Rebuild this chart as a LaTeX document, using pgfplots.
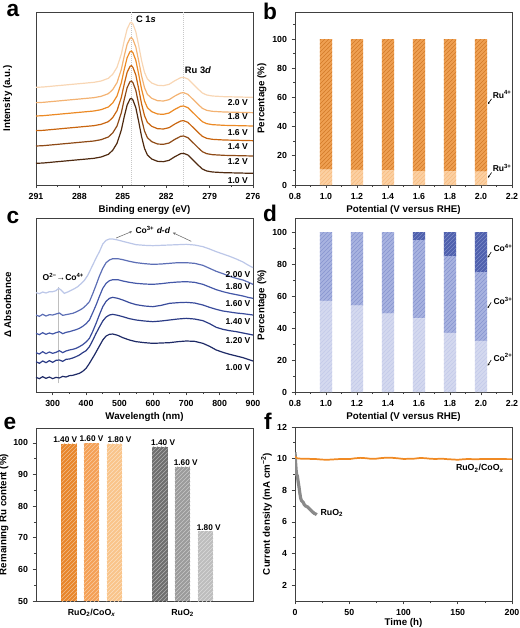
\documentclass[border=0pt]{standalone}
\usepackage{fontspec}
\setmainfont{Liberation Sans}
\usepackage{pgfplots}
\usepackage{pgfplotstable}
\pgfplotsset{compat=1.18}
\usetikzlibrary{patterns,arrows.meta}

\definecolor{aA}{HTML}{4F2A10}
\definecolor{aB}{HTML}{8E4A16}
\definecolor{aC}{HTML}{C9650F}
\definecolor{aD}{HTML}{EC8A25}
\definecolor{aE}{HTML}{F3B272}
\definecolor{aF}{HTML}{F8D6B4}
\definecolor{cA}{HTML}{1E2A66}
\definecolor{cB}{HTML}{2B3B85}
\definecolor{cC}{HTML}{3A4C9C}
\definecolor{cD}{HTML}{4458A8}
\definecolor{cE}{HTML}{5C6EB5}
\definecolor{cF}{HTML}{BCC7E8}
\definecolor{ruF}{HTML}{EFA052}
\definecolor{ruFp}{HTML}{D27A28}
\definecolor{ruT}{HTML}{FCD0A2}
\definecolor{ruTp}{HTML}{F7BC82}
\definecolor{coB}{HTML}{D4D9EF}
\definecolor{coBp}{HTML}{C3CAE9}
\definecolor{coC}{HTML}{A8B3E0}
\definecolor{coCp}{HTML}{8794CF}
\definecolor{coD}{HTML}{4F60AD}
\definecolor{coDp}{HTML}{7D8CC8}
\definecolor{eA}{HTML}{E8852A}
\definecolor{eB}{HTML}{F4A055}
\definecolor{eC}{HTML}{F9C48A}
\definecolor{eD}{HTML}{6E6E6E}
\definecolor{eE}{HTML}{9B9B9B}
\definecolor{eF}{HTML}{BDBDBD}
\definecolor{fO}{HTML}{F08A24}
\definecolor{fG}{HTML}{8A8A8A}

\pgfplotstableread{
E v10 v12 v14 v16 v18 v20
291.0 65 117 163 207 247 293
290.5 66 118 164 208 248 294
290.0 68 120 166 210 250 296
289.5 70 122 168 212 252 298
289.0 72 124 170 214 254 300
288.5 74 126 172 216 256 302
288.0 76 128 174 218 258 304
287.5 78 130 176 220 260 306
287.0 80 132 178 222 262 308
286.5 84 136 182 226 266 312
286.0 92 144 190 234 274 320
285.7 104 156 202 246 286 332
285.4 125 177 223 267 307 353
285.1 165 217 263 307 347 393
284.9 205 257 303 347 387 433
284.7 240 292 338 382 422 468
284.5 258 310 356 400 440 486
284.4 260 312 358 402 442 488
284.3 255 307 353 397 437 483
284.1 232 284 330 374 414 460
283.9 190 242 288 332 372 418
283.7 145 197 243 287 327 373
283.5 110 162 208 252 292 338
283.3 90 142 188 232 272 318
283.0 78 130 176 220 260 306
282.6 71 123 169 213 253 299
282.2 70 122 168 212 252 298
281.8 74 126 172 216 256 302
281.4 85 137 183 227 267 313
281.0 94 146 192 236 276 322
280.8 95 147 193 237 277 323
280.5 90 142 188 232 272 318
280.1 73 125 171 215 255 301
279.8 60 112 158 202 242 288
279.5 48 100 146 190 230 276
279.2 42 94 140 184 224 270
278.8 39 91 137 181 221 267
278.0 37 89 135 179 219 265
277.0 36 88 134 178 218 264
276.0 35 87 133 177 217 263
}\dataA

\tikzset{annot/.style={font=\fontsize{6.4}{7.5}\selectfont\bfseries, inner sep=0.5pt}}

\pgfplotsset{
  panel/.style={
    scale only axis,
    anchor=north west,
    clip mode=individual,
    /pgf/number format/assume math mode=true,
    tick label style={font=\fontsize{6.6}{7.5}\selectfont\bfseries},
    label style={font=\fontsize{7.3}{8.5}\selectfont\bfseries},
    axis line style={line width=0.6pt, black!75},
    tick style={line width=0.5pt, black!75},
    tick align=outside,
    xtick pos=left, ytick pos=left,
    major tick length=2.5pt, minor tick length=1.5pt,
    xlabel style={at={(axis description cs:0.5,-0.09)}, anchor=north},
  },
}

\begin{document}
\begin{tikzpicture}
\path[use as bounding box] (0,0) rectangle (390pt,-471pt);

% panel letters
\begin{scope}[every node/.style={font=\fontsize{17}{17}\selectfont\bfseries, inner sep=0pt}]
\node at (9.75pt,-7.6pt) {a};
\node at (202.5pt,-8.2pt) {b};
\node at (9.75pt,-163.5pt) {c};
\node at (202.5pt,-160pt) {d};
\node at (7.5pt,-318pt) {e};
\node at (201pt,-316pt) {f};
\end{scope}

% ---------------- a ----------------
\begin{axis}[panel, at={(27pt,-9pt)}, width=162.75pt, height=129.75pt,
  xmin=276, xmax=291, x dir=reverse, ymin=0, ymax=519,
  ytick=\empty, xtick={276,279,282,285,288,291}, minor x tick num=1,
  xlabel={Binding energy (eV)}, ylabel={Intensity (a.u.)},
  ylabel style={at={(axis description cs:-0.088,0.5)}, anchor=south}]
\draw[black!22, densely dotted, line width=0.5pt] (axis cs:284.4,0) -- (axis cs:284.4,519);
\draw[black!22, densely dotted, line width=0.5pt] (axis cs:280.8,0) -- (axis cs:280.8,519);
\addplot[aF, line width=0.9pt] table[x=E, y=v20] {\dataA};
\addplot[aE, line width=0.9pt] table[x=E, y=v18] {\dataA};
\addplot[aD, line width=0.9pt] table[x=E, y=v16] {\dataA};
\addplot[aC, line width=0.9pt] table[x=E, y=v14] {\dataA};
\addplot[aB, line width=0.9pt] table[x=E, y=v12] {\dataA};
\addplot[aA, line width=0.9pt] table[x=E, y=v10] {\dataA};
\node[annot, font=\fontsize{7}{8}\selectfont\bfseries] at (axis cs:283.4,498) {C 1\textit{s}};
\node[annot, font=\fontsize{7}{8}\selectfont\bfseries] at (axis cs:279.8,343) {Ru 3\textit{d}};
\node[annot, anchor=east] at (axis cs:276.3,246) {2.0 V};
\node[annot, anchor=east] at (axis cs:276.3,204) {1.8 V};
\node[annot, anchor=east] at (axis cs:276.3,156) {1.6 V};
\node[annot, anchor=east] at (axis cs:276.3,114) {1.4 V};
\node[annot, anchor=east] at (axis cs:276.3,69) {1.2 V};
\node[annot, anchor=east] at (axis cs:276.3,13) {1.0 V};
\end{axis}

% ---------------- b ----------------
\begin{axis}[panel, at={(221.25pt,-9pt)}, width=162.75pt, height=129.75pt,
  ybar stacked, bar width=0.08,
  xmin=0.8, xmax=2.2, ymin=0, ymax=118.5,
  xtick={0.8,1.0,1.2,1.4,1.6,1.8,2.0,2.2}, minor x tick num=1,
  xticklabel style={/pgf/number format/.cd, fixed, fixed zerofill, precision=1},
  ytick={0,20,40,60,80,100}, minor ytick={10,30,50,70,90,110},
  xlabel={Potential (V versus RHE)}, ylabel={Percentage (\%)},
  ylabel style={at={(axis description cs:-0.11,0.5)}, anchor=south}]
\addplot[fill=ruT, draw=none, postaction={pattern=north east lines, pattern color=ruTp}]
  coordinates {(1.0,10.5) (1.2,10.3) (1.4,10.0) (1.6,9.5) (1.8,9.3) (2.0,9.2)};
\addplot[fill=ruF, draw=none, postaction={pattern=north east lines, pattern color=ruFp}]
  coordinates {(1.0,89.5) (1.2,89.7) (1.4,90.0) (1.6,90.5) (1.8,90.7) (2.0,90.8)};
\draw[-{Stealth[length=1.6pt,width=1.6pt]}, line width=0.45pt] (axis cs:2.068,59) -- (axis cs:2.045,55.5);
\draw[-{Stealth[length=1.6pt,width=1.6pt]}, line width=0.45pt] (axis cs:2.068,8.5) -- (axis cs:2.045,5);
\node[annot, anchor=west] at (axis cs:2.07,62) {Ru\textsuperscript{4+}};
\node[annot, anchor=west] at (axis cs:2.07,11.5) {Ru\textsuperscript{3+}};
\end{axis}

% ---------------- c ----------------
\begin{axis}[panel, at={(27pt,-163.5pt)}, width=162.75pt, height=130.5pt,
  xmin=250, xmax=900, ymin=0, ymax=522,
  ytick=\empty, xtick={300,400,500,600,700,800,900}, minor x tick num=1,
  xlabel={Wavelength (nm)}, ylabel={Δ Absorbance},
  ylabel style={at={(axis description cs:-0.092,0.5)}, anchor=south}]
\draw[black!25, line width=0.5pt] (axis cs:318,26) -- (axis cs:318,316);
\addplot[cF, line width=0.9pt] coordinates {(250,298)(260,295)(270,300)(280,297)(290,301)(300,301)(310,304)(318,311)(325,306)(335,296)(345,300)(355,305)(365,310)(375,316)(385,325)(395,335)(405,350)(420,381)(430,402)(440,421)(450,444)(460,455)(470,459)(480,459)(495,456)(510,452)(530,447)(550,442)(575,440)(600,439)(625,440)(650,441)(675,442)(700,443)(725,441)(750,436)(770,429)(790,421)(810,414)(830,407)(850,399)(870,390)(885,381)(900,373)};
\addplot[cE, line width=0.9pt] coordinates {(250,231)(260,227)(270,233)(280,228)(290,232)(300,231)(310,234)(320,237)(330,230)(340,232)(350,234)(360,236)(370,240)(380,245)(390,251)(400,260)(410,271)(420,295)(430,321)(440,348)(450,371)(460,388)(470,396)(480,400)(495,400)(510,397)(530,392)(550,388)(575,385)(600,383)(625,384)(650,386)(675,388)(700,388)(725,386)(750,380)(770,371)(790,362)(810,355)(830,347)(850,341)(870,336)(885,330)(900,323)};
\addplot[cD, line width=0.9pt] coordinates {(250,176)(260,172)(270,178)(280,173)(290,177)(300,174)(310,178)(320,181)(330,175)(340,179)(350,181)(360,184)(370,187)(380,191)(390,197)(400,205)(410,216)(420,238)(430,261)(440,287)(450,311)(460,326)(470,334)(480,337)(495,337)(510,333)(530,329)(550,326)(575,324)(600,323)(625,325)(650,328)(675,330)(700,331)(725,329)(750,323)(770,315)(790,307)(810,301)(830,296)(850,292)(870,288)(885,284)(900,281)};
\addplot[cC, line width=0.9pt] coordinates {(250,118)(260,114)(270,121)(280,115)(290,120)(300,116)(310,119)(320,124)(330,118)(340,123)(350,126)(360,128)(370,131)(380,136)(390,142)(400,150)(410,161)(420,182)(430,206)(440,232)(450,256)(460,272)(470,281)(480,284)(495,281)(510,276)(530,268)(550,262)(575,258)(600,256)(625,260)(650,266)(675,268)(700,269)(725,267)(750,261)(770,254)(790,248)(810,243)(830,240)(850,237)(870,235)(885,233)(900,231)};
\addplot[cB, line width=0.9pt] coordinates {(250,91)(260,86)(270,93)(280,88)(290,94)(300,89)(310,95)(320,96)(330,92)(340,98)(350,99)(360,102)(370,106)(380,111)(390,118)(400,124)(410,136)(420,155)(430,176)(440,195)(450,213)(460,225)(470,231)(480,233)(495,230)(510,226)(530,220)(550,216)(575,213)(600,211)(625,213)(650,216)(675,219)(700,221)(725,219)(750,214)(770,205)(790,194)(810,188)(830,184)(850,181)(870,177)(885,174)(900,171)};
\addplot[cA, line width=0.9pt] coordinates {(250,44)(260,40)(270,46)(280,41)(290,45)(300,40)(310,44)(320,42)(330,47)(340,45)(350,49)(360,50)(370,53)(380,56)(390,62)(400,71)(410,86)(425,111)(440,138)(450,156)(460,168)(470,173)(480,174)(495,170)(510,163)(530,156)(550,151)(575,148)(600,146)(625,147)(650,148)(675,151)(700,153)(725,152)(750,146)(770,137)(790,126)(810,119)(830,113)(850,108)(870,103)(885,98)(900,93)};
\node[annot] at (axis cs:332,346) {O\textsuperscript{2−}→Co\textsuperscript{4+}};
\node[annot] at (axis cs:600,486) {Co\textsuperscript{3+} \textit{d-d}};
\draw[-{Stealth[length=2pt,width=1.8pt]}, black!60, line width=0.4pt] (axis cs:490,462) -- (axis cs:538,482);
\draw[-{Stealth[length=2pt,width=1.8pt]}, black!60, line width=0.4pt] (axis cs:715,452) -- (axis cs:660,478);
\node[annot, anchor=east] at (axis cs:895,351) {2.00 V};
\node[annot, anchor=east] at (axis cs:895,316) {1.80 V};
\node[annot, anchor=east] at (axis cs:895,266) {1.60 V};
\node[annot, anchor=east] at (axis cs:895,211) {1.40 V};
\node[annot, anchor=east] at (axis cs:895,153) {1.20 V};
\node[annot, anchor=east] at (axis cs:895,73) {1.00 V};
\end{axis}

% ---------------- d ----------------
\begin{axis}[panel, at={(221.25pt,-163.5pt)}, width=162.75pt, height=130.5pt,
  ybar stacked, bar width=0.08,
  xmin=0.8, xmax=2.2, ymin=0, ymax=108.75,
  xtick={0.8,1.0,1.2,1.4,1.6,1.8,2.0,2.2}, minor x tick num=1,
  xticklabel style={/pgf/number format/.cd, fixed, fixed zerofill, precision=1},
  ytick={0,20,40,60,80,100}, minor ytick={10,30,50,70,90},
  xlabel={Potential (V versus RHE)}, ylabel={Percentage (\%)},
  ylabel style={at={(axis description cs:-0.11,0.5)}, anchor=south}]
\addplot[fill=coB, draw=none, postaction={pattern=north east lines, pattern color=coBp}]
  coordinates {(1.0,57) (1.2,54) (1.4,49) (1.6,46) (1.8,37) (2.0,32)};
\addplot[fill=coC, draw=none, postaction={pattern=north east lines, pattern color=coCp}]
  coordinates {(1.0,43) (1.2,46) (1.4,51) (1.6,49) (1.8,48) (2.0,43)};
\addplot[fill=coD, draw=none, postaction={pattern=north east lines, pattern color=coDp}]
  coordinates {(1.0,0) (1.2,0) (1.4,0) (1.6,5) (1.8,15) (2.0,25)};
\draw[-{Stealth[length=1.6pt,width=1.6pt]}, line width=0.45pt] (axis cs:2.066,87.5) -- (axis cs:2.043,84);
\draw[-{Stealth[length=1.6pt,width=1.6pt]}, line width=0.45pt] (axis cs:2.066,56) -- (axis cs:2.043,52.5);
\draw[-{Stealth[length=1.6pt,width=1.6pt]}, line width=0.45pt] (axis cs:2.066,20) -- (axis cs:2.043,16.5);
\node[annot, anchor=west] at (axis cs:2.075,90) {Co\textsuperscript{4+}};
\node[annot, anchor=west] at (axis cs:2.075,57) {Co\textsuperscript{3+}};
\node[annot, anchor=west] at (axis cs:2.075,21.5) {Co\textsuperscript{2+}};
\end{axis}

% ---------------- e ----------------
\begin{axis}[panel, at={(27pt,-321pt)}, width=162.75pt, height=129.75pt,
  ybar, bar width=0.72, bar shift=0pt,
  xmin=0, xmax=10, ymin=50, ymax=104.7,
  xtick={2.57,6.76}, xticklabels={RuO\textsubscript{2}/CoO\textsubscript{\textit{x}}, RuO\textsubscript{2}},
  xtick style={draw=none},
  ytick={50,60,70,80,90,100}, minor ytick={55,65,75,85,95},
  ylabel={Remaining Ru content (\%)},
  ylabel style={at={(axis description cs:-0.105,0.5)}, anchor=south}]
\addplot[fill=eA, draw=none, postaction={pattern=north east lines, pattern color=eA!55!white}] coordinates {(1.53,99.8)};
\addplot[fill=eB, draw=none, postaction={pattern=north east lines, pattern color=eB!55!white}] coordinates {(2.56,99.9)};
\addplot[fill=eC, draw=none, postaction={pattern=north east lines, pattern color=eC!55!white}] coordinates {(3.62,99.7)};
\addplot[fill=eD, draw=none, postaction={pattern=north east lines, pattern color=eD!55!white}] coordinates {(5.71,98.7)};
\addplot[fill=eE, draw=none, postaction={pattern=north east lines, pattern color=eE!55!white}] coordinates {(6.75,92.4)};
\addplot[fill=eF, draw=none, postaction={pattern=north east lines, pattern color=eF!55!white}] coordinates {(7.81,72.0)};
\begin{scope}[every node/.style={annot, font=\fontsize{6.2}{7}\selectfont\bfseries, anchor=south, inner sep=0.8pt}]
\node at (axis cs:1.35,99.8) {1.40 V};
\node at (axis cs:2.56,99.9) {1.60 V};
\node at (axis cs:3.85,99.7) {1.80 V};
\node at (axis cs:5.86,98.7) {1.40 V};
\node at (axis cs:6.9,92.4) {1.60 V};
\node at (axis cs:7.96,72.0) {1.80 V};
\end{scope}
\end{axis}

% ---------------- f ----------------
\begin{axis}[panel, at={(221.25pt,-320.25pt)}, width=162.75pt, height=130.5pt,
  xmin=0, xmax=200, ymin=1, ymax=12,
  xtick={0,50,100,150,200}, minor x tick num=1,
  ytick={2,4,6,8,10,12}, minor ytick={3,5,7,9,11},
  xlabel={Time (h)}, ylabel={Current density (mA cm\textsuperscript{−2})},
  xlabel style={at={(axis description cs:0.5,-0.075)}, anchor=north},
  ylabel style={at={(axis description cs:-0.085,0.5)}, anchor=south}]
\addplot[fG, line width=2.4pt] coordinates {(0,10.4)(0.3,10.1)(0.6,9.7)(1,9.3)(1.5,9.0)(2.2,8.9)(3,8.5)(3.7,8.2)(4.5,7.8)(5.2,7.5)(6,7.35)(7.4,7.25)(8.5,7.1)(9.9,7.0)(11.5,6.95)(12.9,6.86)(14.5,6.75)(16,6.65)(17.5,6.55)(19.1,6.5)(20,6.45)};
\addplot[fO, line width=1.3pt] coordinates {(0,10.12)(2,10.02)(5,10.0)(10,10.0)(15,9.98)(20,9.97)(25,9.94)(30,9.93)(35,9.95)(40,9.97)(45,9.98)(50,9.97)(55,10.02)(60,10.05)(65,10.03)(70,9.99)(75,10.0)(80,10.04)(85,10.06)(90,10.05)(95,10.02)(100,9.98)(105,9.99)(110,10.0)(115,10.04)(120,10.03)(125,9.99)(130,9.98)(135,10.0)(140,9.97)(145,9.95)(150,9.93)(155,9.96)(160,9.98)(165,9.96)(170,9.97)(175,9.98)(180,9.97)(185,9.98)(190,9.98)(195,9.97)(200,9.97)};
\node[annot, font=\fontsize{6.6}{8}\selectfont\bfseries] at (axis cs:170.5,9.38) {RuO\textsubscript{2}/CoO\textsubscript{\textit{x}}};
\node[annot, font=\fontsize{6.6}{8}\selectfont\bfseries] at (axis cs:34,6.55) {RuO\textsubscript{2}};
\end{axis}
\end{tikzpicture}
\end{document}
